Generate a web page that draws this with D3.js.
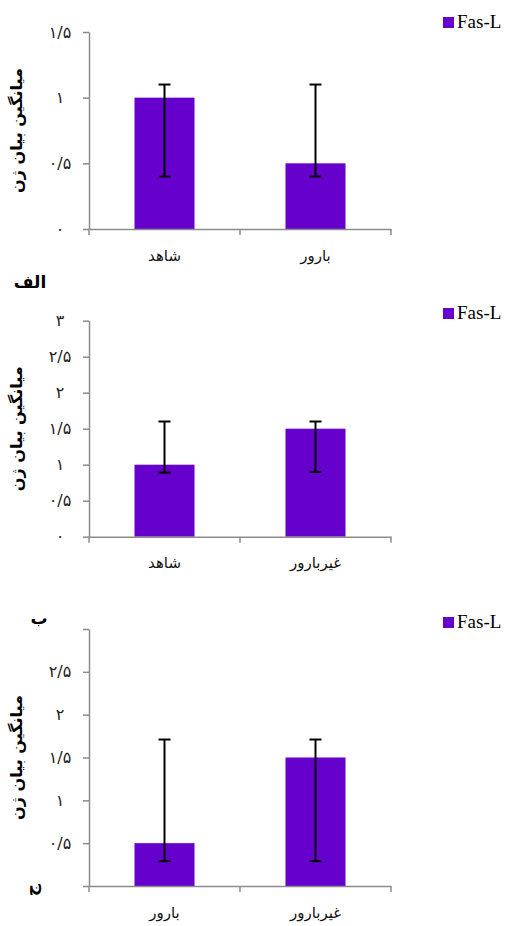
<!DOCTYPE html>
<html>
<head>
<meta charset="utf-8">
<script src="https://cdn.jsdelivr.net/npm/d3@7"></script>
<style>
  body { margin: 0; background: #fff; }
</style>
</head>
<body>
<div id="chart"></div>
<script>
// data
const seriesName = 'Fas-L'
const yTitle = 'میانگین بیان ژن'

const cats1 = ['شاهد', 'بارور']
const vals1 = [1.0, 0.5]
const errHi1 = [1.1, 1.1]
const errLo1 = [0.4, 0.4]

const cats2 = ['شاهد', 'غیربارور']
const vals2 = [1.0, 1.5]
const errHi2 = [1.6, 1.6]
const errLo2 = [0.89, 0.9]

const cats3 = ['بارور', 'غیربارور']
const vals3 = [0.5, 1.5]
const errHi3 = [1.71, 1.71]
const errLo3 = [0.29, 0.29]

const yTicks1 = [0, 0.5, 1, 1.5]
const yTicks2 = [0, 0.5, 1, 1.5, 2, 2.5, 3]
const yTicks3 = [0, 0.5, 1, 1.5, 2, 2.5, 3]
const hidden3 = [0, 3] // labels not shown in the last panel

const panelLetters = ['الف', 'ب', 'ج']

const barColor = '#6600cc'
const axisColor = '#8c8c8c'

const svg = d3.select('#chart').append('svg')
  .attr('width', 511)
  .attr('height', 926)

const fa = (v) => String(v).replace('.', '/').replace(/[0-9]/g, (c) => '۰۱۲۳۴۵۶۷۸۹'[+c])

function panel(cfg) {
  const x = d3.scaleBand().domain(cfg.cats).range([89, 391])
  const y = d3.scaleLinear().domain([0, cfg.max]).range([cfg.bottom, cfg.top])
  const g = svg.append('g')

  // y axis
  const ya = g.append('g')
    .attr('transform', 'translate(89,0)')
    .call(d3.axisLeft(y).tickValues(cfg.ticks).tickSize(6).tickSizeOuter(0)
      .tickFormat((d) => (cfg.hide || []).includes(d) ? '' : fa(d)))
  ya.select('.domain').attr('stroke', axisColor).attr('stroke-width', 1.5)
  ya.selectAll('.tick line').attr('stroke', axisColor).attr('stroke-width', 1.5)
  ya.selectAll('.tick text')
    .attr('x', -29)
    .attr('text-anchor', 'middle')
    .attr('font-family', 'DejaVu Sans, sans-serif')
    .attr('font-size', 16)
    .attr('fill', '#222')

  // bars
  const bw = 60
  const data = cfg.cats.map((c, i) => ({ c, v: cfg.vals[i], hi: cfg.hi[i], lo: cfg.lo[i] }))
  g.selectAll('rect.bar').data(data).enter().append('rect')
    .attr('class', 'bar')
    .attr('x', (d) => x(d.c) + x.bandwidth() / 2 - bw / 2)
    .attr('width', bw)
    .attr('y', (d) => y(d.v))
    .attr('height', (d) => y(0) - y(d.v))
    .attr('fill', barColor)

  // x axis
  const xa = g.append('g')
    .attr('transform', `translate(0,${cfg.bottom})`)
    .call(d3.axisBottom(x).tickSize(0).tickSizeOuter(0))
  xa.select('.domain').attr('stroke', axisColor).attr('stroke-width', 1.5)
  xa.selectAll('.tick text')
    .attr('y', 21)
    .attr('font-family', 'DejaVu Sans, sans-serif')
    .attr('font-size', 15)
    .attr('fill', '#111')
  // category separators
  g.selectAll('line.sep').data([89, 240, 391]).enter().append('line')
    .attr('x1', (d) => d).attr('x2', (d) => d)
    .attr('y1', cfg.bottom).attr('y2', cfg.bottom + 6)
    .attr('stroke', axisColor).attr('stroke-width', 1.5)

  // error bars
  const eb = g.selectAll('g.err').data(data).enter().append('g')
    .attr('transform', (d) => `translate(${x(d.c) + x.bandwidth() / 2},0)`)
  eb.append('line')
    .attr('y1', (d) => y(d.hi)).attr('y2', (d) => y(d.lo))
    .attr('stroke', '#000').attr('stroke-width', 2)
  eb.append('line').attr('x1', -6).attr('x2', 6)
    .attr('y1', (d) => y(d.hi)).attr('y2', (d) => y(d.hi))
    .attr('stroke', '#000').attr('stroke-width', 2)
  eb.append('line').attr('x1', -6).attr('x2', 6)
    .attr('y1', (d) => y(d.lo)).attr('y2', (d) => y(d.lo))
    .attr('stroke', '#000').attr('stroke-width', 2)

  // y title
  g.append('text')
    .attr('transform', `translate(22,${(cfg.top + cfg.bottom) / 2}) rotate(-90)`)
    .attr('text-anchor', 'middle')
    .attr('font-family', 'DejaVu Sans, sans-serif')
    .attr('font-weight', 'bold')
    .attr('font-size', 16)
    .text(yTitle)

  // legend
  g.append('rect')
    .attr('x', 443).attr('y', cfg.legendY - 11)
    .attr('width', 11).attr('height', 11)
    .attr('fill', barColor)
  g.append('text')
    .attr('x', 457).attr('y', cfg.legendY)
    .attr('font-family', 'Liberation Serif, serif')
    .attr('font-size', 19)
    .text(seriesName)
}

panel({ cats: cats1, vals: vals1, hi: errHi1, lo: errLo1, ticks: yTicks1, max: 1.5, top: 32, bottom: 229, legendY: 28 })
panel({ cats: cats2, vals: vals2, hi: errHi2, lo: errLo2, ticks: yTicks2, max: 3, top: 320.7, bottom: 536.7, legendY: 319 })
panel({ cats: cats3, vals: vals3, hi: errHi3, lo: errLo3, ticks: yTicks3, max: 3, top: 629, bottom: 886, legendY: 628, hide: hidden3 })

// panel letters
const letterFont = { family: 'DejaVu Sans, sans-serif', size: 17 }
svg.append('text').attr('x', 30).attr('y', 288).attr('text-anchor', 'middle')
  .attr('font-family', letterFont.family).attr('font-weight', 'bold').attr('font-size', letterFont.size)
  .text(panelLetters[0])
svg.append('text').attr('x', 39).attr('y', 624).attr('text-anchor', 'middle')
  .attr('font-family', letterFont.family).attr('font-weight', 'bold').attr('font-size', letterFont.size)
  .text(panelLetters[1])
svg.append('text').attr('transform', 'translate(37,890) rotate(-90)').attr('text-anchor', 'middle')
  .attr('font-family', letterFont.family).attr('font-weight', 'bold').attr('font-size', letterFont.size)
  .text(panelLetters[2])
</script>
</body>
</html>
